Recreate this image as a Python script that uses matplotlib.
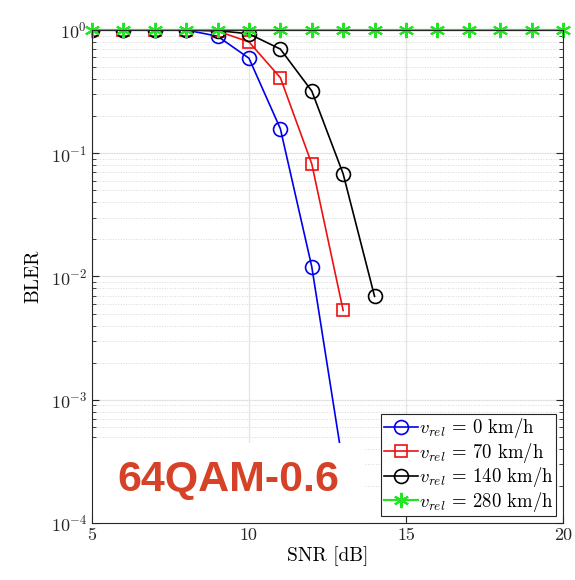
import matplotlib
matplotlib.use("Agg")
import matplotlib.pyplot as plt
from matplotlib.patches import Rectangle

plt.rcParams["font.family"] = "serif"
plt.rcParams["font.serif"] = ["cmr10"]
plt.rcParams["mathtext.fontset"] = "cm"
plt.rcParams["axes.formatter.use_mathtext"] = True

# BLER vs SNR, 64QAM code rate 0.6
snr_0 = [5, 6, 7, 8, 9, 10, 11, 12, 13]
bler_0 = [1.0, 1.0, 1.0, 1.0, 0.89, 0.59, 0.158, 0.012, 2.9e-4]

snr_70 = [5, 6, 7, 8, 9, 10, 11, 12, 13]
bler_70 = [1.0, 1.0, 1.0, 1.0, 0.98, 0.80, 0.41, 0.082, 0.0053]

snr_140 = [5, 6, 7, 8, 9, 10, 11, 12, 13, 14]
bler_140 = [1.0, 1.0, 1.0, 1.0, 0.99, 0.93, 0.70, 0.32, 0.068, 0.0069]

snr_280 = [5, 6, 7, 8, 9, 10, 11, 12, 13, 14, 15, 16, 17, 18, 19, 20]
bler_280 = [1.0] * 16

labels = [r"$v_{rel}$ = 0 km/h", r"$v_{rel}$ = 70 km/h",
          r"$v_{rel}$ = 140 km/h", r"$v_{rel}$ = 280 km/h"]

BLUE = "#0000ee"
RED = "#ee1111"
BLACK = "#000000"
GREEN = "#22e622"
ORANGE = "#d54227"

fig = plt.figure(figsize=(5.75, 5.8), dpi=100)
ax = fig.add_axes([0.16, 0.0983, 0.819, 0.85])

ax.plot(snr_0, bler_0, color=BLUE, lw=1.2, marker="o", ms=10, mfc="none",
        mew=1.2, label=labels[0])
ax.plot(snr_70, bler_70, color=RED, lw=1.2, marker="s", ms=8.5, mfc="none",
        mew=1.2, label=labels[1])
ax.plot(snr_140, bler_140, color=BLACK, lw=1.2, marker="o", ms=10, mfc="none",
        mew=1.2, label=labels[2])
ax.plot(snr_280, bler_280, color=GREEN, lw=1.6, marker=(6, 2, 0), ms=11,
        mew=1.5, label=labels[3], clip_on=False)

ax.set_yscale("log")
ax.set_xlim(5, 20)
ax.set_ylim(1e-4, 1)
ax.set_xticks([5, 10, 15, 20])
ax.set_xticklabels(["5", "10", "15", "20"])

ax.set_axisbelow(True)
ax.grid(True, which="major", color="#e4e4e4", lw=0.9, ls="-")
ax.grid(True, which="minor", axis="y", color="#d8d8d8", lw=0.7, ls=":")

ax.tick_params(which="both", direction="in", top=True, right=True,
               labelsize=13, colors="#262626")
ax.tick_params(which="major", length=5)
ax.tick_params(which="minor", length=3)
for s in ax.spines.values():
    s.set_color("#262626")
    s.set_linewidth(0.8)

ax.set_xlabel("SNR [dB]", fontsize=14, labelpad=2)
ax.set_ylabel("BLER", fontsize=14, labelpad=6)

# white label box over the lower-left corner
ax.add_patch(Rectangle((0, 0), 0.58, 0.162, transform=ax.transAxes,
                       facecolor="white", edgecolor="none", zorder=2.3))
ax.text(0.053, 0.088, "64QAM-0.6", transform=ax.transAxes, fontsize=31,
        fontweight="bold", family="Liberation Sans", color=ORANGE,
        va="center", ha="left", zorder=2.4)

leg = ax.legend(loc="lower right", fontsize=13.5, handlelength=1.8,
                handletextpad=0.05, borderpad=0.15, labelspacing=0.02,
                borderaxespad=0.35, fancybox=False, framealpha=1,
                edgecolor="#262626")
leg.get_frame().set_linewidth(0.8)
leg.set_zorder(5)

fig.savefig("out.png", dpi=100, facecolor="white")
